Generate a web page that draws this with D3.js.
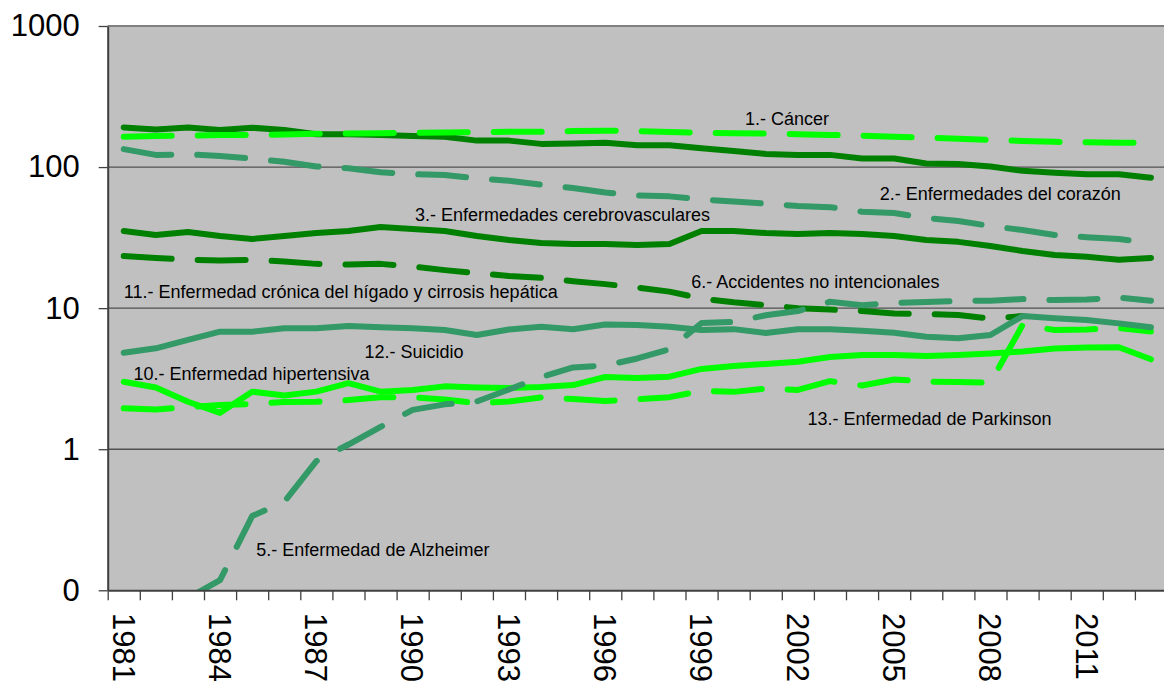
<!DOCTYPE html>
<html>
<head>
<meta charset="utf-8">
<script src="https://cdn.jsdelivr.net/npm/d3@7/dist/d3.min.js"></script>
<style>
body { margin: 0; background: #fff; }
svg text { font-family: "Liberation Sans", Arial, sans-serif; fill: #000; }
</style>
</head>
<body>
<svg id="chart"></svg>
<script>
// categories
var years = [1981,1982,1983,1984,1985,1986,1987,1988,1989,1990,1991,1992,1993,1994,1995,1996,1997,
             1998,1999,2000,2001,2002,2003,2004,2005,2006,2007,2008,2009,2010,2011,2012,2013];
var yearLabels = [1981,1984,1987,1990,1993,1996,1999,2002,2005,2008,2011];
var yTickValues = [0.1, 1, 10, 100, 1000];

// series values (one per year, null = no data)
var corazon = [191,185,191,183,190,183,171,171,169,166,164,154,154,146,147,149,143,143,136,130,124,122,122,115,115,106,105,101,94,91,89,89,84];
var cancer = [164,166,167,169,169,170,172,173,174,175,176,177,178,178,180,181,180,177,175,174,173,171,169,167,164,162,159,156,153,151,150,149,148];
var cerebro = [134,122,123,120,115,109,101,98,92,89,88,83,80,75,71,66,63,62,59,57,55,53,52,48.3,47.2,43.6,41.5,38.2,35.8,33,31.8,30.9,29];
var accidentes = [35.2,33.0,34.7,32.5,30.9,32.5,34.1,35.2,37.6,36.4,35.2,32.5,30.4,29.0,28.5,28.5,28.0,28.5,35.2,35.2,34.1,33.5,34.1,33.5,32.5,30.4,29.5,27.6,25.4,23.8,23.1,22.0,22.7];
var higado = [23.4,22.7,22.0,21.8,22.0,21.4,20.6,20.4,20.6,19.7,18.6,17.7,16.9,16.4,15.5,14.8,14.0,13.1,11.7,11.0,10.5,10.0,9.77,9.54,9.17,9.09,8.95,8.44,8.79,null,null,null,null];
var suicidio = [4.83,5.19,5.95,6.81,6.81,7.20,7.20,7.47,7.31,7.20,7.00,6.45,7.06,7.38,7.08,7.66,7.60,7.38,7.00,7.10,6.67,7.08,7.08,6.92,6.70,6.28,6.11,6.45,8.79,8.47,8.24,7.80,7.31];
var alzheimer = [null,null,0.088,0.118,0.336,0.423,0.824,1.08,1.44,1.90,2.08,2.18,2.65,3.25,3.80,3.92,4.40,5.11,7.85,7.98,8.9,9.54,11.1,10.5,10.9,11.05,11.25,11.3,11.6,11.4,11.5,11.9,11.3];
var hipertensiva = [3.01,2.74,2.17,1.81,2.56,2.40,2.56,2.94,2.56,2.63,2.79,2.74,2.72,2.76,2.85,3.25,3.20,3.27,3.71,3.89,4.02,4.17,4.51,4.66,4.66,4.58,4.66,4.77,4.93,5.18,5.26,5.28,4.34];
var parkinson = [1.95,1.91,1.99,2.06,2.09,2.16,2.17,2.23,2.34,2.33,2.25,2.12,2.18,2.33,2.27,2.20,2.26,2.34,2.59,2.55,2.69,2.63,3.04,2.83,3.12,3.02,2.99,2.96,7.60,7.00,7.06,7.23,6.83];

// label texts and the (year, value) point where each one starts
var labelTexts = ["1.- Cáncer", "2.- Enfermedades del corazón", "3.- Enfermedades cerebrovasculares",
  "6.- Accidentes no intencionales", "11.- Enfermedad crónica del hígado y cirrosis hepática",
  "12.- Suicidio", "10.- Enfermedad hipertensiva", "13.- Enfermedad de Parkinson", "5.- Enfermedad de Alzheimer"];
var labelYears = [2000.35, 2004.55, 1990.07, 1998.68, 1981.0, 1988.5, 1981.3, 2002.3, 1985.13];
var labelValues = [198.7, 58.4, 41.5, 13.8, 11.86, 4.41, 3.09, 1.48, 0.175];

var lime = "#00ff00", dark = "#008000", sea = "#339966";

var series = [
  {values: corazon, color: dark, dashed: false},
  {values: cancer, color: lime, dashed: true},
  {values: cerebro, color: sea, dashed: true},
  {values: accidentes, color: dark, dashed: false},
  {values: higado, color: dark, dashed: true},
  {values: hipertensiva, color: lime, dashed: false},
  {values: parkinson, color: lime, dashed: true},
  {values: suicidio, color: sea, dashed: false},
  {values: alzheimer, color: sea, dashed: true}
];

var svgWidth = 1164, svgHeight = 681;
var plotLeft = 107.7, plotTop = 26, plotBottom = 590.3, step = 32.1;
var plotRight = plotLeft + years.length * step;

var svg = d3.select("#chart")
  .attr("width", svgWidth)
  .attr("height", svgHeight);

var x = d3.scaleLinear().domain([years[0] - 0.5, years[years.length - 1] + 0.5]).range([plotLeft, plotRight]);
var y = d3.scaleLog().domain([0.1, 1000]).range([plotBottom, plotTop]);

// plot area
svg.append("rect")
  .attr("x", plotLeft).attr("y", plotTop)
  .attr("width", plotRight - plotLeft).attr("height", plotBottom - plotTop)
  .attr("fill", "#c0c0c0");

svg.append("clipPath").attr("id", "plotclip")
  .append("rect")
  .attr("x", plotLeft).attr("y", plotTop)
  .attr("width", plotRight - plotLeft).attr("height", plotBottom - plotTop);

// gridlines
svg.append("g")
  .selectAll("line")
  .data(yTickValues.slice(1))
  .enter().append("line")
  .attr("x1", plotLeft).attr("x2", plotRight)
  .attr("y1", function(d) { return y(d); })
  .attr("y2", function(d) { return y(d); })
  .attr("stroke", function(d) { return d == 1000 ? "#808080" : "#505050"; })
  .attr("stroke-width", function(d) { return d == 1000 ? 2 : 1.3; });

// series
var line = d3.line()
  .defined(function(d) { return d[1] != null; })
  .x(function(d) { return x(d[0]); })
  .y(function(d) { return y(d[1]); });

svg.append("g")
  .attr("clip-path", "url(#plotclip)")
  .selectAll("path")
  .data(series)
  .enter().append("path")
  .attr("fill", "none")
  .attr("stroke", function(d) { return d.color; })
  .attr("stroke-width", 6)
  .attr("stroke-linecap", "round")
  .attr("stroke-linejoin", "round")
  .attr("stroke-dasharray", function(d) { return d.dashed ? "48,26" : null; })
  .attr("d", function(d) {
    return line(years.map(function(yr, i) { return [yr, d.values[i]]; }));
  });

// labels inside the plot
svg.append("g")
  .selectAll("text")
  .data(labelTexts)
  .enter().append("text")
  .attr("x", function(d, i) { return x(labelYears[i]); })
  .attr("y", function(d, i) { return y(labelValues[i]); })
  .attr("font-size", "18px")
  .text(function(d) { return d; });

// y axis
var yAxis = svg.append("g")
  .attr("transform", "translate(" + plotLeft + ",0)")
  .call(d3.axisLeft(y)
    .tickValues(yTickValues)
    .tickSize(9)
    .tickSizeOuter(0)
    .tickPadding(19)
    .tickFormat(function(d) { return d < 1 ? "0" : d3.format("d")(d); }));
yAxis.select(".domain").attr("stroke", "#404040").attr("stroke-width", 2);
yAxis.selectAll(".tick line").attr("stroke", "#404040").attr("stroke-width", 1.3);
yAxis.selectAll("text").attr("font-size", "31px").attr("font-family", null);

// x axis: tick marks between categories
var tickPos = years.map(function(yr) { return yr - 0.5; });
var xAxis = svg.append("g")
  .attr("transform", "translate(0," + plotBottom + ")")
  .call(d3.axisBottom(x)
    .tickValues(tickPos)
    .tickSize(10)
    .tickSizeOuter(0)
    .tickFormat(""));
xAxis.select(".domain").attr("stroke", "#404040").attr("stroke-width", 2);
xAxis.selectAll(".tick line").attr("stroke", "#404040").attr("stroke-width", 1.3);

// x labels, rotated
svg.append("g")
  .selectAll("text")
  .data(yearLabels)
  .enter().append("text")
  .attr("transform", function(d) { return "translate(" + x(d) + ",613) rotate(90)"; })
  .attr("dy", "0.36em")
  .attr("font-size", "31px")
  .text(function(d) { return d; });
</script>
</body>
</html>
